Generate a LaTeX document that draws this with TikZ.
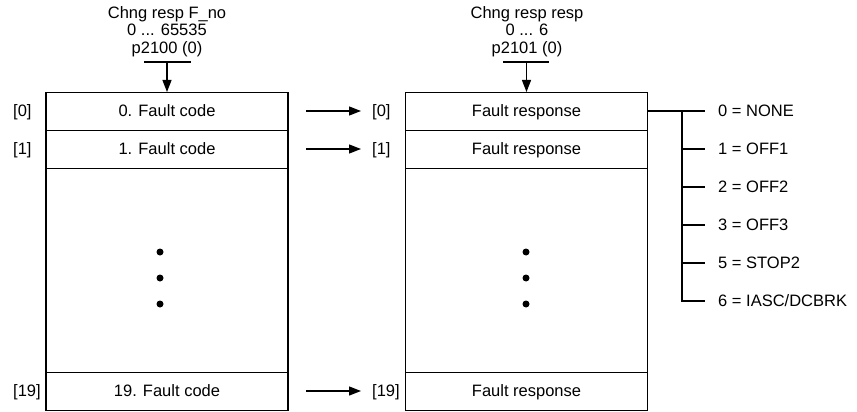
\documentclass[tikz,border=0pt]{standalone}
\usepackage{fontspec}
\setmainfont{Liberation Sans}
\usetikzlibrary{arrows.meta}
\begin{document}
\begin{tikzpicture}[x=1pt,y=-1pt,
  every node/.style={font=\fontsize{16.5}{17.5}\selectfont},
  line/.style={line width=1.3pt},
  arr/.style={line width=1.3pt,-{Triangle[length=12pt,width=9pt]}},
  row/.style={draw,line width=1.3pt,minimum width=242pt,minimum height=38pt,inner sep=0pt,anchor=north,text height=12pt,text depth=2pt},
  frame/.style={draw,line width=1.3pt,minimum width=242pt,minimum height=318pt,inner sep=0pt,anchor=north},
  idx/.style={anchor=west,inner sep=0pt,text height=12pt,text depth=2pt},
  dotc/.style={circle,fill,inner sep=0pt,minimum size=7pt},
  hdr/.style={align=center,inner sep=0pt}
]
\useasboundingbox (0,0) rectangle (857,412);
% left block
\node[frame] (lbox) at (167,92) {};
\node[row] (l0) at (167,92) {0. Fault code};
\node[row] (l1) at (167,130) {1. Fault code};
\node[row] (l19) at (167,372) {19. Fault code};
\node[dotc] (ld1) at (160,252) {};
\node[dotc] (ld2) at (160,278) {};
\node[dotc] (ld3) at (160,304) {};
% right block
\node[frame] (rbox) at (526.5,92) {};
\node[row] (r0) at (526.5,92) {Fault response};
\node[row] (r1) at (526.5,130) {Fault response};
\node[row] (r19) at (526.5,372) {Fault response};
\node[dotc] (rd1) at (526,252) {};
\node[dotc] (rd2) at (526,278) {};
\node[dotc] (rd3) at (526,304) {};
% left index labels
\node[idx] (li0) at (13,111) {[0]};
\node[idx] (li1) at (13,149) {[1]};
\node[idx] (li19) at (13,391) {[19]};
% right index labels
\node[idx] (ri0) at (372,111) {[0]};
\node[idx] (ri1) at (372,149) {[1]};
\node[idx] (ri19) at (372,391) {[19]};
% arrows between blocks
\coordinate (a0) at (306,111);
\coordinate (a1) at (306,149);
\coordinate (a19) at (306,391);
\draw[arr] (a0) -- ([xshift=-11pt]ri0.west);
\draw[arr] (a1) -- ([xshift=-11pt]ri1.west);
\draw[arr] (a19) -- ([xshift=-11pt]ri19.west);
% headers
\node[hdr,anchor=south] (hl) at (167,57) {Chng resp F\_no\\0 ... 65535\\p2100 (0)};
\node[hdr,anchor=south] (hr) at (527,57) {Chng resp resp\\0 ... 6\\p2101 (0)};
\coordinate (hlL) at (144,62); \coordinate (hlR) at (191,62);
\coordinate (hrL) at (503,62); \coordinate (hrR) at (549,62);
\draw[line] (hlL) -- (hlR);
\draw[line] (hrL) -- (hrR);
\draw[arr] (167,62) -- (l0.north);
\draw[arr] (526.5,62) -- (r0.north);
% response list
\node[idx] (o0) at (718,111) {0 = NONE};
\node[idx] (o1) at (718,149) {1 = OFF1};
\node[idx] (o2) at (718,187) {2 = OFF2};
\node[idx] (o3) at (718,225) {3 = OFF3};
\node[idx] (o5) at (718,263) {5 = STOP2};
\node[idx] (o6) at (718,301) {6 = IASC/DCBRK};
\coordinate (bus0) at (682,111);
\coordinate (bus6) at (682,301);
\draw[line] (r0.east |- o0) -- ([xshift=-13pt]o0.west);
\draw[line] (bus0) -- (bus6) -- ([xshift=-13pt]o6.west);
\draw[line] (682,149) -- ([xshift=-13pt]o1.west);
\draw[line] (682,187) -- ([xshift=-13pt]o2.west);
\draw[line] (682,225) -- ([xshift=-13pt]o3.west);
\draw[line] (682,263) -- ([xshift=-13pt]o5.west);
\end{tikzpicture}
\end{document}
